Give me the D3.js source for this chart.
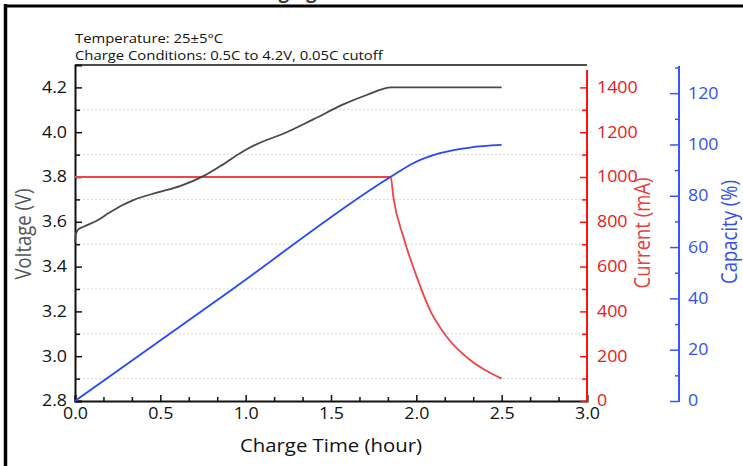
<!DOCTYPE html>
<html>
<head>
<meta charset="utf-8">
<script src="https://cdn.jsdelivr.net/npm/d3@7"></script>
<style>
  body { margin: 0; background: #fff; }
  svg { display: block; font-family: "Open Sans", sans-serif; }
</style>
</head>
<body>
<div id="chart"></div>
<script>
// voltage curve (V) vs charge time (hour)
var timeV   = [0, 0.004, 0.01, 0.02, 0.05, 0.127, 0.2, 0.28, 0.342, 0.48, 0.615, 0.752, 0.85, 0.986, 1.084, 1.22, 1.396, 1.572, 1.709, 1.855, 2.5];
var voltage = [3.51, 3.54, 3.555, 3.566, 3.578, 3.605, 3.64, 3.675, 3.697, 3.73, 3.759, 3.804, 3.848, 3.915, 3.953, 3.993, 4.057, 4.124, 4.166, 4.20, 4.20];

// current (mA)
var timeI   = [0, 1.85, 1.865, 1.924, 2.002, 2.08, 2.178, 2.315, 2.41, 2.5];
var current = [1000, 1000, 912, 733, 555, 406, 287, 183, 135, 100];

// capacity (%)
var timeC    = [0, 0.9, 1.85, 1.982, 2.138, 2.314, 2.5];
var capacity = [0, 42.5, 87.4, 92.7, 96.6, 98.8, 99.8];

// tick labels
var xTicks = [0, 0.5, 1.0, 1.5, 2.0, 2.5, 3.0];
var vTicks = [2.8, 3.0, 3.2, 3.4, 3.6, 3.8, 4.0, 4.2];
var iTicks = [0, 200, 400, 600, 800, 1000, 1200, 1400];
var cTicks = [0, 20, 40, 60, 80, 100, 120];

var headerLines = ["Temperature: 25\u00b15\u00b0C", "Charge Conditions: 0.5C to 4.2V, 0.05C cutoff"];

var W = 743, H = 466;
var pL = 75, pR = 587, pT = 65, pB = 401;
var capX = 679;

var svg = d3.select("#chart").append("svg")
  .attr("width", W).attr("height", H);

var x = d3.scaleLinear().domain([0, 3]).range([pL, pR]);
var yV = d3.scaleLinear().domain([2.8, 4.3]).range([pB, pT]);
var yI = d3.scaleLinear().domain([0, 1500]).range([pB, pT]);
var yC = d3.scaleLinear().domain([0, 130]).range([pB, 67.5]);

// outer frame pieces (cropped figure border)
svg.append("line").attr("x1", 4).attr("x2", W).attr("y1", 6).attr("y2", 6)
  .attr("stroke", "#000").attr("stroke-width", 3);
svg.append("line").attr("x1", 5.5).attr("x2", 5.5).attr("y1", 4).attr("y2", H)
  .attr("stroke", "#000").attr("stroke-width", 3.5);

// cropped title fragment
svg.append("text").attr("x", 305).attr("y", -1)
  .attr("text-anchor", "middle").attr("font-size", 18).attr("font-weight", "bold")
  .attr("fill", "#333").text("Charging Curve");

// header
headerLines.forEach(function(t, i) {
  var hy = 43 + i * 17;
  svg.append("text").attr("x", pL).attr("y", hy)
    .attr("font-size", 13.5).attr("fill", "#111")
    .attr("transform", "translate(" + pL + ",0) scale(1.1,1) translate(" + (-pL) + ",0)")
    .text(t);
});

// gridlines
var gridVals = d3.range(2.9, 4.15, 0.2);
svg.append("g").selectAll("line").data(gridVals).enter().append("line")
  .attr("x1", pL).attr("x2", pR)
  .attr("y1", function(d) { return yV(d); }).attr("y2", function(d) { return yV(d); })
  .attr("stroke", "#d8d8d8").attr("stroke-width", 1).attr("stroke-dasharray", "2,2");

function stretch(g, sx) {
  g.selectAll("text").each(function() {
    var t = d3.select(this);
    t.attr("x", (+t.attr("x") || 0) / sx).attr("transform", "scale(" + sx + ",1)");
  });
}

var SX = 1.15;

// bottom axis
var xMinor = d3.range(1, 18).filter(function(k) { return k % 3 != 0; }).map(function(k) { return k / 6; });
svg.append("g").attr("transform", "translate(0," + pB + ")")
  .call(d3.axisBottom(x).tickValues(xMinor).tickSize(-4).tickFormat(""))
  .call(function(g) { g.select(".domain").remove(); g.selectAll("line").attr("stroke", "#111").attr("stroke-width", 1.5); });
var xAxisG = svg.append("g").attr("transform", "translate(0," + pB + ")")
  .call(d3.axisBottom(x).tickValues(xTicks).tickSize(-6).tickPadding(7).tickFormat(d3.format(".1f")));
xAxisG.select(".domain").attr("stroke", "#111").attr("stroke-width", 2);
xAxisG.selectAll("line").attr("stroke", "#111").attr("stroke-width", 1.5);
xAxisG.selectAll("text").attr("font-size", 15.5).attr("fill", "#111").attr("font-family", "Open Sans");
stretch(xAxisG, SX);

// top frame
svg.append("line").attr("x1", pL).attr("x2", pR).attr("y1", pT).attr("y2", pT)
  .attr("stroke", "#111").attr("stroke-width", 1.5);

// left voltage axis
var vMinor = d3.range(2.9, 4.15, 0.2);
svg.append("g").attr("transform", "translate(" + pL + ",0)")
  .call(d3.axisLeft(yV).tickValues(vMinor).tickSize(-5).tickFormat(""))
  .call(function(g) { g.select(".domain").remove(); g.selectAll("line").attr("stroke", "#111").attr("stroke-width", 1.5); });
var vAxisG = svg.append("g").attr("transform", "translate(" + pL + ",0)")
  .call(d3.axisLeft(yV).tickValues(vTicks).tickSize(-7).tickPadding(8).tickFormat(d3.format(".1f")));
vAxisG.select(".domain").attr("stroke", "#111").attr("stroke-width", 2);
vAxisG.selectAll("line").attr("stroke", "#111").attr("stroke-width", 1.5);
vAxisG.selectAll("text").attr("font-size", 15.5).attr("fill", "#111").attr("font-family", "Open Sans");
stretch(vAxisG, SX);

// right current axis
var iMinor = d3.range(100, 1400, 200);
var red = "#ff1010";
svg.append("g").attr("transform", "translate(" + pR + ",0)")
  .call(d3.axisRight(yI).tickValues(iMinor).tickSize(-5).tickFormat(""))
  .call(function(g) { g.select(".domain").remove(); g.selectAll("line").attr("stroke", red).attr("stroke-width", 1.5); });
var iAxisG = svg.append("g").attr("transform", "translate(" + pR + ",0)")
  .call(d3.axisRight(yI).tickValues(iTicks).tickSize(-7).tickPadding(10).tickFormat(d3.format("d")));
iAxisG.select(".domain").remove();
iAxisG.selectAll("line").attr("stroke", red).attr("stroke-width", 1.5);
iAxisG.selectAll("text").attr("font-size", 15.5).attr("fill", "#e8181c").attr("font-family", "Open Sans");
stretch(iAxisG, SX);
svg.append("line").attr("x1", pR).attr("x2", pR).attr("y1", pB + 1).attr("y2", 70)
  .attr("stroke", red).attr("stroke-width", 2);

// capacity axis
var blue = "#3a55ff";
var cMinor = d3.range(10, 131, 20);
svg.append("g").attr("transform", "translate(" + capX + ",0)")
  .call(d3.axisRight(yC).tickValues(cMinor).tickSize(-4).tickFormat(""))
  .call(function(g) { g.select(".domain").remove(); g.selectAll("line").attr("stroke", blue).attr("stroke-width", 1.5); });
var cAxisG = svg.append("g").attr("transform", "translate(" + capX + ",0)")
  .call(d3.axisRight(yC).tickValues(cTicks).tickSize(-9).tickPadding(9));
cAxisG.select(".domain").remove();
cAxisG.selectAll("line").attr("stroke", blue).attr("stroke-width", 1.5);
cAxisG.selectAll("text").attr("font-size", 15.5).attr("fill", "#3350f0").attr("font-family", "Open Sans");
stretch(cAxisG, SX);
svg.append("line").attr("x1", capX).attr("x2", capX).attr("y1", pB + 1).attr("y2", 66)
  .attr("stroke", blue).attr("stroke-width", 2);

// series lines
var lineV = d3.line().x(function(d) { return x(d[0]); }).y(function(d) { return yV(d[1]); }).curve(d3.curveMonotoneX);
var lineI = d3.line().x(function(d) { return x(d[0]); }).y(function(d) { return yI(d[1]); }).curve(d3.curveMonotoneX);
var lineC = d3.line().x(function(d) { return x(d[0]); }).y(function(d) { return yC(d[1]); }).curve(d3.curveMonotoneX);

svg.append("path").datum(d3.zip(timeI, current)).attr("d", lineI)
  .attr("fill", "none").attr("stroke", "#f04444").attr("stroke-width", 1.8);
svg.append("path").datum(d3.zip(timeC, capacity)).attr("d", lineC)
  .attr("fill", "none").attr("stroke", "#2646ff").attr("stroke-width", 1.8);
svg.append("path").datum(d3.zip(timeV, voltage)).attr("d", lineV)
  .attr("fill", "none").attr("stroke", "#484848").attr("stroke-width", 1.8);

// axis titles
var cx0 = (pL + pR) / 2;
svg.append("text").attr("x", cx0).attr("y", 452)
  .attr("text-anchor", "middle").attr("font-size", 18.5).attr("fill", "#111")
  .attr("transform", "translate(" + cx0 + ",0) scale(1.1,1) translate(" + (-cx0) + ",0)")
  .text("Charge Time (hour)");

function vTitle(txt, cx, cy, col) {
  svg.append("text").attr("transform", "translate(" + cx + "," + cy + ") rotate(-90) scale(1,1.15)")
    .attr("text-anchor", "middle").attr("dy", "0.35em")
    .attr("font-size", 18.5).attr("fill", col).text(txt);
}
vTitle("Voltage (V)", 24, 234, "#555");
vTitle("Current (mA)", 643, 233, "#e8403c");
vTitle("Capacity (%)", 730, 232, "#3350f0");
</script>
</body>
</html>
